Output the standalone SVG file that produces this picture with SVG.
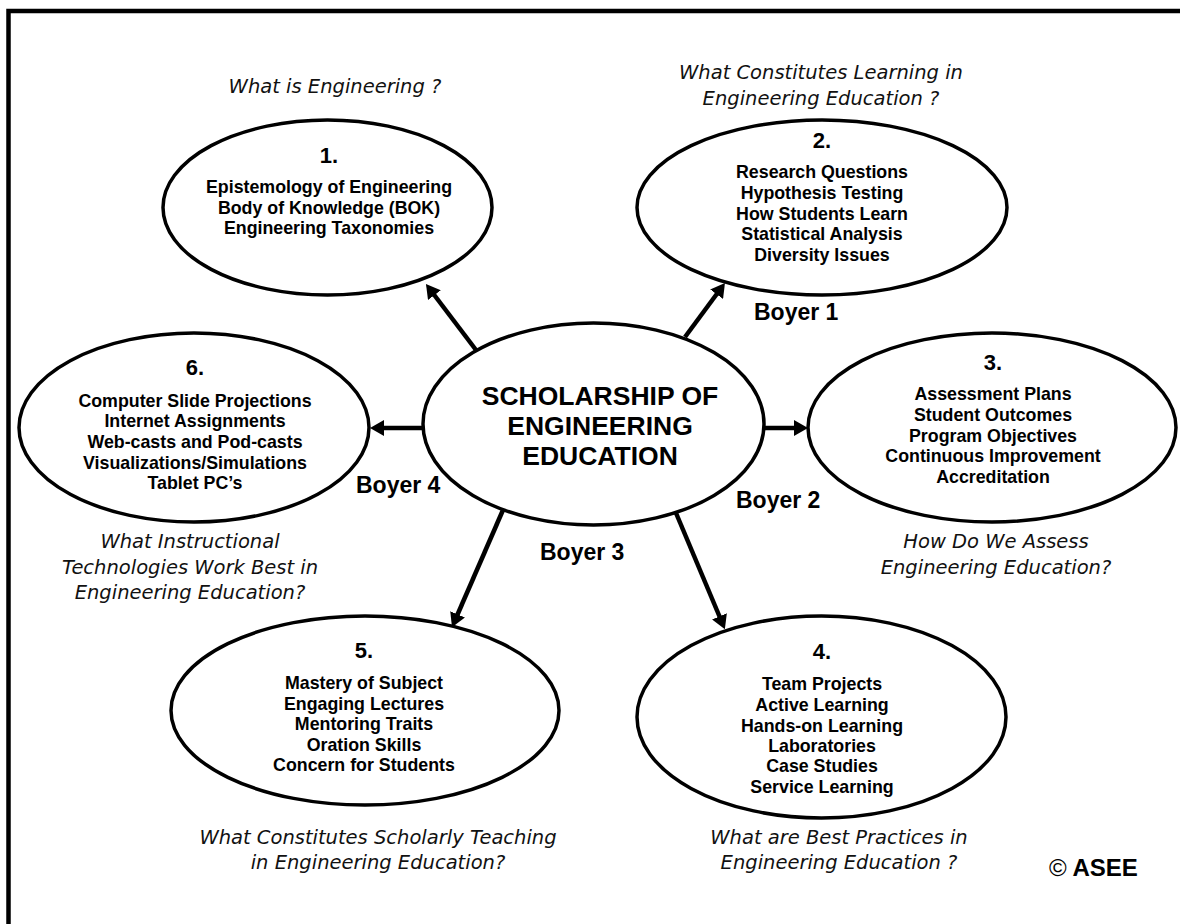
<svg xmlns="http://www.w3.org/2000/svg" width="1180" height="924" viewBox="0 0 1180 924">
<style>
.frame{fill:none;stroke:#000;stroke-width:4.5}
.node{fill:#fff;stroke:#000;stroke-width:3.5}
.num{font-family:"Liberation Sans",Arial,sans-serif;font-weight:bold;font-size:22px;text-anchor:middle;fill:#000}
.item{font-family:"Liberation Sans",Arial,sans-serif;font-weight:bold;font-size:17.8px;text-anchor:middle;fill:#000}
.center{font-family:"Liberation Sans",Arial,sans-serif;font-weight:bold;font-size:26.5px;text-anchor:middle;fill:#000}
.q{font-family:"DejaVu Sans",sans-serif;font-style:italic;font-size:19.5px;text-anchor:middle;fill:#111}
.boyer{font-family:"Liberation Sans",Arial,sans-serif;font-weight:bold;font-size:23px;fill:#000}
.conn{fill:none;stroke:#000;stroke-width:4.5}
</style>
<defs>
<marker id="ah" viewBox="0 0 14 16" markerWidth="14" markerHeight="16" refX="4" refY="8" orient="auto" markerUnits="userSpaceOnUse">
<path d="M0,0 L14,8 L0,16 z" fill="#000"/>
</marker>
</defs>
<rect width="1180" height="924" fill="#fff"/>
<rect class="frame" x="8.5" y="11" width="1200" height="1000"/>

<g id="connectors">
<line class="conn" x1="476" y1="350" x2="432" y2="292" marker-end="url(#ah)"/>
<line class="conn" x1="685" y1="337" x2="719" y2="291" marker-end="url(#ah)"/>
<line class="conn" x1="764" y1="428" x2="798" y2="428" marker-end="url(#ah)"/>
<line class="conn" x1="423" y1="428" x2="380" y2="428" marker-end="url(#ah)"/>
<line class="conn" x1="676" y1="513" x2="721" y2="620" marker-end="url(#ah)"/>
<line class="conn" x1="503" y1="510" x2="456" y2="618" marker-end="url(#ah)"/>
<text class="boyer" x="754" y="320">Boyer 1</text>
<text class="boyer" x="736" y="508">Boyer 2</text>
<text class="boyer" x="540" y="560">Boyer 3</text>
<text class="boyer" x="356" y="493">Boyer 4</text>
</g>

<g id="center">
<ellipse class="node" cx="593.5" cy="424" rx="170.5" ry="101"/>
<text class="center" x="600" y="405">SCHOLARSHIP OF</text>
<text class="center" x="600" y="435">ENGINEERING</text>
<text class="center" x="600" y="465">EDUCATION</text>
</g>

<g id="node1">
<text class="q" x="335" y="93">What is Engineering ?</text>
<ellipse class="node" cx="327.5" cy="207.5" rx="164.5" ry="87.5"/>
<text class="num" x="329" y="163">1.</text>
<text class="item" x="329" y="193">Epistemology of Engineering</text>
<text class="item" x="329" y="213.5">Body of Knowledge (BOK)</text>
<text class="item" x="329" y="234">Engineering Taxonomies</text>
</g>

<g id="node2">
<text class="q" x="821" y="79">What Constitutes Learning in</text>
<text class="q" x="821" y="105">Engineering Education ?</text>
<ellipse class="node" cx="822" cy="207.5" rx="185" ry="87.5"/>
<text class="num" x="822" y="148">2.</text>
<text class="item" x="822" y="178.3">Research Questions</text>
<text class="item" x="822" y="199">Hypothesis Testing</text>
<text class="item" x="822" y="219.5">How Students Learn</text>
<text class="item" x="822" y="240">Statistical Analysis</text>
<text class="item" x="822" y="260.7">Diversity Issues</text>
</g>

<g id="node3">
<ellipse class="node" cx="992" cy="427.5" rx="184" ry="94.5"/>
<text class="num" x="993" y="370">3.</text>
<text class="item" x="993" y="400">Assessment Plans</text>
<text class="item" x="993" y="420.7">Student Outcomes</text>
<text class="item" x="993" y="441.5">Program Objectives</text>
<text class="item" x="993" y="462.3">Continuous Improvement</text>
<text class="item" x="993" y="483">Accreditation</text>
<text class="q" x="996" y="548">How Do We Assess</text>
<text class="q" x="996" y="574">Engineering Education?</text>
</g>

<g id="node4">
<ellipse class="node" cx="821.5" cy="717" rx="184.5" ry="101"/>
<text class="num" x="822" y="659">4.</text>
<text class="item" x="822" y="690">Team Projects</text>
<text class="item" x="822" y="710.7">Active Learning</text>
<text class="item" x="822" y="731.5">Hands-on Learning</text>
<text class="item" x="822" y="751.8">Laboratories</text>
<text class="item" x="822" y="772.3">Case Studies</text>
<text class="item" x="822" y="792.7">Service Learning</text>
<text class="q" x="839" y="844">What are Best Practices in</text>
<text class="q" x="839" y="869">Engineering Education ?</text>
</g>

<g id="node5">
<ellipse class="node" cx="365" cy="710.5" rx="194" ry="94.5"/>
<text class="num" x="364" y="658">5.</text>
<text class="item" x="364" y="689">Mastery of Subject</text>
<text class="item" x="364" y="709.5">Engaging Lectures</text>
<text class="item" x="364" y="730">Mentoring Traits</text>
<text class="item" x="364" y="750.5">Oration Skills</text>
<text class="item" x="364" y="771">Concern for Students</text>
<text class="q" x="378" y="844">What Constitutes Scholarly Teaching</text>
<text class="q" x="378" y="869">in Engineering Education?</text>
</g>

<g id="node6">
<ellipse class="node" cx="194" cy="427.5" rx="175" ry="94.5"/>
<text class="num" x="195" y="375">6.</text>
<text class="item" x="195" y="406.7">Computer Slide Projections</text>
<text class="item" x="195" y="427.3">Internet Assignments</text>
<text class="item" x="195" y="448">Web-casts and Pod-casts</text>
<text class="item" x="195" y="468.5">Visualizations/Simulations</text>
<text class="item" x="195" y="489.3">Tablet PC’s</text>
<text class="q" x="190" y="548">What Instructional</text>
<text class="q" x="190" y="574">Technologies Work Best in</text>
<text class="q" x="190" y="599">Engineering Education?</text>
</g>

<g id="copyright">
<text x="1049" y="876" font-family="Liberation Sans, Arial, sans-serif" font-size="24px" fill="#000"><tspan>©</tspan><tspan font-weight="bold"> ASEE</tspan></text>
</g>
</svg>
